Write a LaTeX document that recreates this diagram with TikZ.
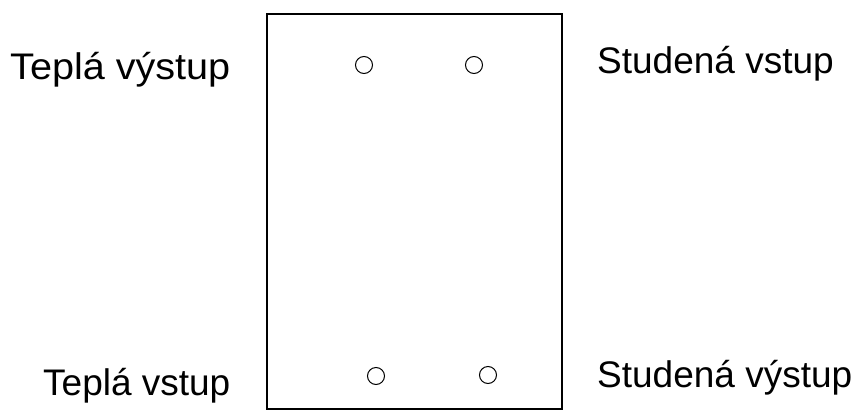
\documentclass[tikz,border=0pt]{standalone}
\usepackage{fontspec}
\usepackage{graphicx}
\setmainfont{Liberation Sans}
\begin{document}
\begin{tikzpicture}[x=1pt,y=-1pt,
  lbl/.style={anchor=base west,inner sep=0pt,font=\fontsize{37}{40}\selectfont},
  port/.style={circle,draw,line width=1pt,minimum size=17pt,inner sep=0pt},
  tank/.style={draw,line width=1.6pt}]
\useasboundingbox[fill=white] (0,0) rectangle (855,410);
\draw[tank] (267,14) rectangle (562,409);
\node[port] (p1) at (364,65) {};
\node[port] (p2) at (474,65) {};
\node[port] (p3) at (376,376) {};
\node[port] (p4) at (488,375) {};
\node[lbl] (t1) at (10,79) {\scalebox{1.07}[1]{Teplá výstup}};
\node[lbl] (t2) at (597,73) {Studená vstup};
\node[lbl] (t3) at (43,395) {Teplá vstup};
\node[lbl] (t4) at (597,387) {Studená výstup};
\end{tikzpicture}
\end{document}
